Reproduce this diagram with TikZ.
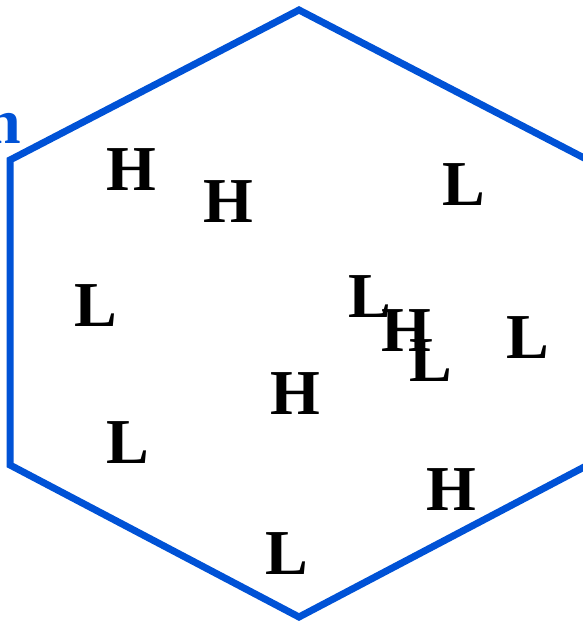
\documentclass[tikz,border=0pt]{standalone}
\usepackage{fontspec}
\setmainfont{Liberation Serif}
\definecolor{hexblue}{RGB}{0,82,214}
\begin{document}
\begin{tikzpicture}[x=1pt,y=-1pt,
  every node/.style={font=\fontsize{64}{64}\selectfont\bfseries,inner sep=0pt},
  hi/.style={text=black},
  lo/.style={text=black}]
\useasboundingbox (0,0) rectangle (582,621);
% Hexagon
\coordinate (top) at (299,10);
\coordinate (ul) at (10,160);
\coordinate (ll) at (10,465);
\coordinate (bot) at (299,617);
\coordinate (lr) at (588,465);
\coordinate (ur) at (588,160);
\draw[hexblue,line width=7pt] (top) -- (ul) -- (ll) -- (bot) -- (lr) -- (ur) -- cycle;
\node[text=hexblue,anchor=base east] (lbl) at (21,143) {n};
% High and low sites
\node[hi] (h1) at (131.5,170) {H};
\node[hi] (h2) at (228,201.5) {H};
\node[lo] (l1) at (464,185) {L};
\node[lo] (l2) at (95.5,305.5) {L};
\node[lo] (l3) at (370,296.5) {L};
\node[hi] (h3) at (406,331) {H};
\node[lo] (l4) at (431,361) {L};
\node[lo] (l5) at (527.5,338) {L};
\node[hi] (h4) at (295.5,394) {H};
\node[lo] (l6) at (128,442.5) {L};
\node[hi] (h5) at (451.5,489.5) {H};
\node[lo] (l7) at (287,554) {L};
\end{tikzpicture}
\end{document}
